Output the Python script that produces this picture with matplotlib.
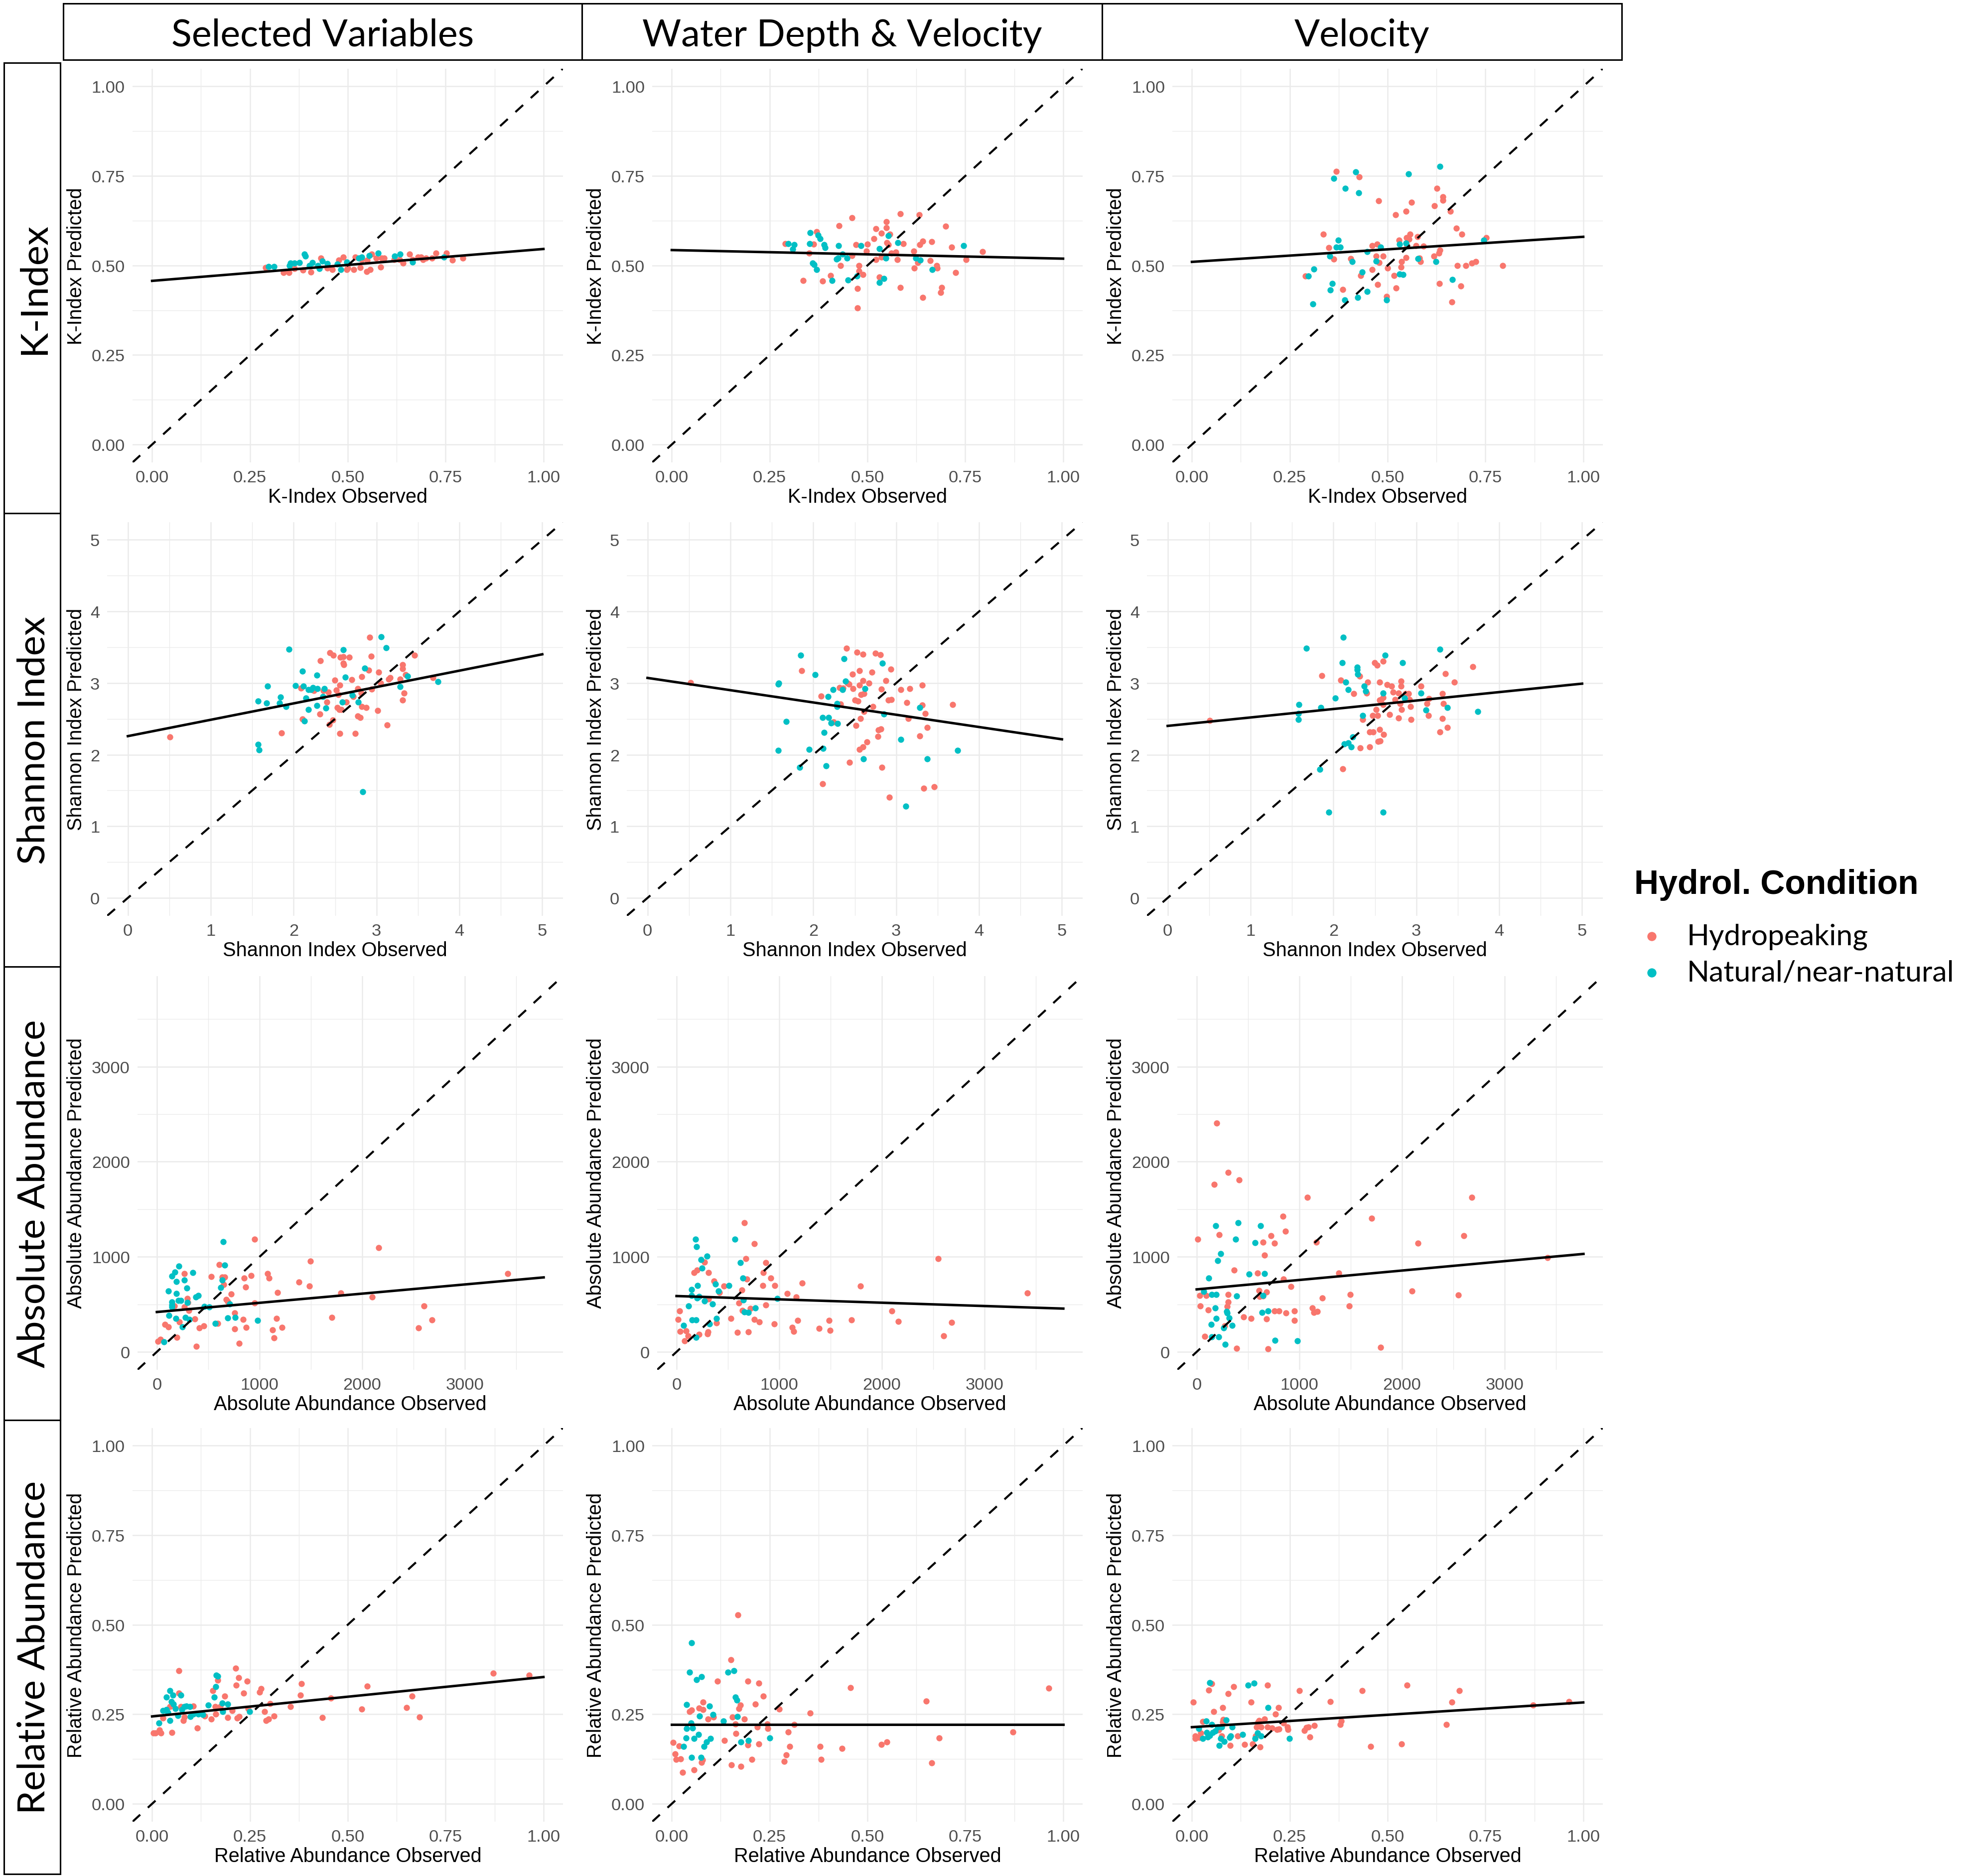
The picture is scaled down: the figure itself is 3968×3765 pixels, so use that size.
import numpy as np
import matplotlib.pyplot as plt
from matplotlib.lines import Line2D
from matplotlib.patches import Rectangle

HYD = '#F8766D'
NAT = '#00BFC4'

col_titles = ['Selected Variables', 'Water Depth & Velocity', 'Velocity']
row_titles = ['K-Index', 'Shannon Index', 'Absolute Abundance', 'Relative Abundance']
legend_title = 'Hydrol. Condition'
legend_labels = ['Hydropeaking', 'Natural/near-natural']

# ---------------- K-Index ----------------
k_sel_hx = [0.290,0.336,0.350,0.364,0.385,0.406,0.431,0.448,0.461,0.477,0.488,0.497,0.500,0.515,0.519,0.532,0.536,0.549,0.550,0.557,0.561,0.572,0.584,0.587,0.593,0.618,0.633,0.641,0.658,0.666,0.679,0.687,0.692,0.700,0.715,0.725,0.752,0.767,0.794]
k_sel_hy = [0.494,0.480,0.480,0.491,0.487,0.482,0.520,0.492,0.488,0.515,0.523,0.489,0.492,0.489,0.524,0.494,0.516,0.483,0.515,0.489,0.531,0.520,0.496,0.521,0.520,0.516,0.516,0.507,0.531,0.516,0.523,0.524,0.516,0.521,0.521,0.535,0.535,0.515,0.521]
k_sel_nx = [0.297,0.311,0.351,0.354,0.364,0.376,0.389,0.392,0.402,0.410,0.423,0.427,0.435,0.448,0.473,0.482,0.497,0.528,0.536,0.555,0.578,0.620,0.634,0.665,0.746]
k_sel_ny = [0.497,0.497,0.499,0.507,0.507,0.508,0.532,0.526,0.499,0.508,0.500,0.491,0.512,0.505,0.504,0.489,0.510,0.520,0.524,0.527,0.534,0.526,0.532,0.510,0.524]

k_wdv_hx = [0.290,0.336,0.351,0.362,0.370,0.385,0.406,0.428,0.431,0.461,0.461,0.471,0.475,0.475,0.478,0.478,0.488,0.497,0.500,0.517,0.522,0.522,0.530,0.536,0.536,0.549,0.549,0.550,0.553,0.557,0.561,0.572,0.576,0.584,0.584,0.592,0.618,0.620,0.629,0.633,0.634,0.641,0.641,0.661,0.664,0.677,0.678,0.687,0.690,0.700,0.715,0.725,0.752,0.794]
k_wdv_hy = [0.561,0.458,0.534,0.559,0.594,0.456,0.472,0.611,0.500,0.527,0.633,0.558,0.435,0.382,0.500,0.484,0.475,0.540,0.559,0.575,0.602,0.516,0.467,0.590,0.524,0.622,0.606,0.563,0.558,0.588,0.534,0.537,0.516,0.644,0.439,0.561,0.540,0.492,0.508,0.641,0.558,0.568,0.410,0.514,0.567,0.500,0.492,0.424,0.438,0.610,0.551,0.480,0.516,0.539]
k_wdv_nx = [0.297,0.309,0.313,0.354,0.352,0.360,0.364,0.370,0.374,0.379,0.389,0.392,0.410,0.421,0.425,0.426,0.436,0.448,0.450,0.473,0.483,0.530,0.530,0.542,0.547,0.554,0.578,0.623,0.635,0.665,0.746]
k_wdv_ny = [0.561,0.545,0.558,0.591,0.561,0.507,0.502,0.488,0.585,0.575,0.558,0.550,0.458,0.518,0.521,0.555,0.532,0.521,0.459,0.471,0.555,0.547,0.452,0.464,0.521,0.583,0.564,0.520,0.515,0.488,0.555]

k_vel_hx = [0.290,0.336,0.350,0.362,0.369,0.385,0.406,0.428,0.431,0.461,0.461,0.471,0.473,0.475,0.477,0.478,0.488,0.497,0.500,0.517,0.521,0.522,0.529,0.534,0.536,0.547,0.547,0.549,0.550,0.555,0.557,0.561,0.572,0.576,0.582,0.584,0.592,0.618,0.620,0.626,0.631,0.633,0.634,0.641,0.641,0.661,0.664,0.676,0.678,0.687,0.690,0.700,0.715,0.725,0.752,0.794]
k_vel_hy = [0.470,0.587,0.550,0.518,0.763,0.433,0.519,0.747,0.472,0.556,0.488,0.526,0.560,0.447,0.681,0.508,0.526,0.413,0.493,0.472,0.641,0.437,0.571,0.495,0.511,0.652,0.522,0.578,0.556,0.574,0.588,0.676,0.555,0.580,0.520,0.511,0.554,0.526,0.666,0.716,0.534,0.449,0.543,0.692,0.682,0.652,0.398,0.604,0.499,0.442,0.587,0.500,0.507,0.511,0.578,0.499]
k_vel_nx = [0.297,0.309,0.312,0.352,0.359,0.354,0.362,0.369,0.374,0.379,0.390,0.392,0.409,0.419,0.424,0.426,0.435,0.448,0.448,0.471,0.482,0.497,0.530,0.530,0.540,0.547,0.553,0.578,0.623,0.634,0.665,0.746]
k_vel_ny = [0.471,0.393,0.490,0.526,0.449,0.432,0.743,0.551,0.571,0.551,0.403,0.716,0.511,0.761,0.410,0.703,0.482,0.427,0.539,0.512,0.551,0.403,0.476,0.560,0.474,0.562,0.755,0.519,0.511,0.777,0.461,0.571]

# ---------------- Shannon Index ----------------
sh_sel_hx = [0.509,1.854,2.088,2.108,2.247,2.315,2.323,2.359,2.399,2.418,2.430,2.438,2.470,2.478,2.498,2.518,2.526,2.538,2.550,2.558,2.558,2.566,2.578,2.597,2.597,2.605,2.637,2.673,2.701,2.717,2.741,2.776,2.776,2.804,2.816,2.820,2.820,2.876,2.904,2.916,2.936,2.940,3.015,3.023,3.047,3.126,3.146,3.162,3.282,3.313,3.313,3.317,3.333,3.353,3.457,3.679]
sh_sel_hy = [2.251,2.303,2.932,2.498,2.892,2.566,3.315,2.892,2.733,2.873,2.422,3.426,2.486,3.386,3.040,2.900,2.661,2.837,2.629,2.972,2.295,3.359,2.629,3.371,3.275,3.259,2.733,3.363,3.048,2.813,2.295,2.924,2.542,2.518,2.861,3.092,2.673,2.657,3.179,3.641,3.378,2.916,2.614,3.155,2.996,2.414,3.052,3.076,3.052,3.259,3.203,2.765,2.861,3.116,3.390,3.076]
sh_sel_nx = [1.571,1.571,1.583,1.671,1.683,1.830,1.842,1.905,1.945,2.021,2.108,2.116,2.132,2.148,2.176,2.180,2.208,2.232,2.279,2.283,2.287,2.351,2.371,2.391,2.590,2.597,2.625,2.709,2.780,2.836,2.856,3.059,3.115,3.286,3.373,3.739]
sh_sel_ny = [2.749,2.143,2.068,2.721,2.956,2.721,2.801,2.673,3.470,2.964,3.167,2.956,2.470,2.789,2.633,2.912,2.912,2.940,2.685,3.112,2.924,2.813,2.920,2.653,2.733,3.466,3.080,2.833,2.733,1.482,3.207,3.645,3.494,2.948,3.100,3.020]

sh_wdv_hx = [0.517,1.862,2.092,2.112,2.247,2.327,2.319,2.359,2.399,2.414,2.430,2.438,2.470,2.478,2.502,2.518,2.530,2.538,2.558,2.558,2.558,2.570,2.578,2.597,2.597,2.597,2.609,2.609,2.645,2.673,2.705,2.717,2.749,2.780,2.788,2.812,2.816,2.820,2.828,2.876,2.908,2.916,2.936,2.940,3.055,3.126,3.146,3.162,3.286,3.313,3.313,3.333,3.353,3.377,3.457,3.683]
sh_wdv_hy = [3.004,3.171,2.817,1.594,2.454,2.705,2.936,2.928,3.486,2.996,2.988,1.896,3.127,2.924,2.765,2.406,3.434,2.749,2.076,3.171,2.972,2.502,2.841,3.406,3.036,2.112,2.853,2.602,2.175,2.996,3.155,2.669,3.414,2.255,2.343,3.394,2.359,2.916,1.825,3.036,2.765,1.406,3.195,2.773,2.908,2.729,2.502,2.924,2.259,2.972,2.693,1.534,2.574,2.378,1.554,2.701]
sh_wdv_nx = [1.575,1.583,1.579,1.671,1.834,1.850,1.949,2.021,2.112,2.120,2.132,2.152,2.180,2.184,2.212,2.239,2.287,2.287,2.295,2.355,2.371,2.391,2.605,2.625,2.852,2.836,3.055,3.115,3.286,3.373,3.739]
sh_wdv_ny = [2.988,3.000,2.060,2.466,1.821,3.390,2.076,3.116,2.518,2.088,2.307,1.841,2.809,2.518,2.446,2.908,2.713,2.669,2.438,2.908,3.339,3.028,1.944,2.920,2.566,3.275,2.215,1.283,2.657,1.940,2.060]

sh_vel_hx = [0.509,1.858,2.088,2.112,2.247,2.319,2.323,2.351,2.399,2.410,2.438,2.438,2.470,2.478,2.498,2.518,2.526,2.534,2.538,2.558,2.558,2.558,2.566,2.578,2.597,2.597,2.597,2.605,2.645,2.677,2.701,2.717,2.741,2.784,2.784,2.804,2.816,2.816,2.820,2.868,2.908,2.916,2.932,2.936,3.055,3.126,3.154,3.146,3.286,3.313,3.313,3.329,3.353,3.377,3.457,3.683]
sh_vel_hy = [2.478,3.104,3.044,1.801,2.853,3.100,2.096,2.494,2.857,3.016,2.315,2.112,2.546,2.315,3.283,2.633,3.247,2.546,2.183,3.012,2.761,2.351,2.191,2.769,3.307,2.797,2.697,2.283,2.980,2.562,2.956,2.873,2.769,2.857,2.514,2.717,3.028,2.956,2.633,2.853,2.853,2.773,2.673,2.494,2.956,2.717,2.781,2.550,2.315,2.853,2.502,2.713,3.131,2.382,3.016,3.227]
sh_vel_nx = [1.575,1.583,1.575,1.671,1.834,1.846,1.945,2.021,2.108,2.120,2.132,2.148,2.180,2.180,2.212,2.232,2.287,2.287,2.291,2.351,2.371,2.391,2.597,2.597,2.625,2.836,2.856,3.055,3.115,3.286,3.373,3.739]
sh_vel_ny = [2.574,2.701,2.494,3.486,1.797,2.661,1.199,2.793,3.283,3.637,2.151,3.012,2.163,2.912,2.112,2.251,3.219,3.187,3.127,2.550,2.956,2.888,2.857,1.199,3.390,3.283,2.793,2.857,2.622,3.474,2.657,2.606]

# ---------------- Absolute Abundance ----------------
ab_sel_hx = [13,35,77,112,173,195,221,269,266,298,304,311,368,384,413,458,528,592,608,637,650,663,676,692,724,756,756,801,842,849,865,868,916,951,954,1076,1092,1124,1140,1166,1175,1220,1383,1486,1495,1703,1790,2097,2158,2549,2600,2680,3417]
ab_sel_hy = [108,130,286,262,485,151,313,825,473,560,521,437,346,60,250,274,792,298,916,789,708,789,551,530,608,407,241,87,340,777,681,259,801,1187,515,825,774,229,145,352,623,256,732,693,952,361,617,575,1096,250,485,334,825]
ab_sel_nx = [67,112,118,144,144,147,147,176,183,189,189,215,208,234,247,266,279,291,295,317,349,381,403,461,509,567,621,637,644,660,692,708,762,980]
ab_sel_ny = [105,642,383,798,527,491,473,840,352,738,614,904,539,539,262,753,364,672,521,340,831,575,590,476,473,298,675,756,1160,910,358,503,364,328]

ab_wdv_hx = [16,32,35,77,93,112,173,199,221,272,301,307,311,311,365,391,416,461,528,592,608,634,640,660,676,685,698,720,756,759,804,839,845,868,868,916,954,957,1076,1124,1143,1166,1178,1223,1386,1486,1495,1703,1790,2097,2158,2549,2603,2680,3417]
ab_wdv_hy = [340,431,214,117,223,166,831,861,184,943,187,211,834,557,744,304,623,693,352,205,515,651,434,1358,979,768,208,455,1139,343,313,696,834,937,494,777,295,696,611,256,214,575,328,726,247,328,226,334,693,431,319,982,166,310,617]
ab_wdv_nx = [70,118,144,147,150,183,189,189,195,202,205,218,237,247,272,295,320,349,381,391,407,512,567,624,644,650,660,701,765,980]
ab_wdv_ny = [277,485,654,593,337,1184,334,154,1105,566,696,584,970,880,533,1009,295,503,711,349,642,699,1184,940,777,545,419,413,464,560]

ab_vel_hx = [13,32,35,77,93,112,173,195,221,272,298,307,307,307,365,387,413,458,528,592,608,612,644,647,660,679,679,695,724,756,756,801,839,845,865,868,916,954,954,1076,1124,1140,1166,1175,1223,1383,1486,1495,1703,1790,2097,2155,2549,2600,2680,3417]
ab_vel_hy = [1184,590,485,163,590,440,1762,2404,1232,271,479,605,524,1889,861,39,1810,367,349,828,645,581,1154,587,1015,630,346,33,1223,431,1145,431,1428,768,1268,410,687,431,328,1627,461,413,1154,425,566,828,485,605,1404,45,642,1145,596,1220,1627,991]
ab_vel_nx = [67,118,141,147,147,179,183,189,189,205,215,234,263,279,291,295,317,346,378,387,403,512,567,624,637,647,660,695,762,980]
ab_vel_ny = [636,777,289,605,160,464,1325,602,349,958,157,1033,250,81,425,410,355,280,1184,587,1358,816,1148,1325,416,593,822,428,120,114]

# ---------------- Relative Abundance ----------------
rel_sel_hx = [0.003,0.009,0.019,0.023,0.028,0.045,0.050,0.068,0.068,0.074,0.080,0.082,0.105,0.116,0.134,0.151,0.155,0.161,0.162,0.168,0.174,0.185,0.193,0.204,0.214,0.215,0.217,0.221,0.222,0.234,0.243,0.245,0.275,0.278,0.287,0.291,0.297,0.301,0.312,0.354,0.379,0.382,0.435,0.457,0.536,0.550,0.650,0.664,0.683,0.872,0.963]
rel_sel_hy = [0.198,0.198,0.206,0.198,0.239,0.271,0.199,0.309,0.372,0.271,0.233,0.242,0.273,0.211,0.245,0.237,0.316,0.271,0.250,0.345,0.271,0.300,0.241,0.260,0.378,0.331,0.239,0.352,0.244,0.309,0.342,0.266,0.312,0.321,0.258,0.233,0.236,0.280,0.245,0.271,0.304,0.336,0.241,0.295,0.265,0.328,0.269,0.300,0.242,0.365,0.359]
rel_sel_nx = [0.017,0.028,0.036,0.036,0.040,0.045,0.046,0.049,0.053,0.055,0.060,0.066,0.074,0.076,0.082,0.087,0.097,0.098,0.105,0.118,0.130,0.144,0.159,0.162,0.164,0.168,0.179,0.181,0.193,0.249]
rel_sel_ny = [0.225,0.261,0.263,0.298,0.255,0.316,0.233,0.285,0.303,0.279,0.266,0.247,0.303,0.263,0.271,0.273,0.271,0.243,0.251,0.251,0.249,0.276,0.298,0.327,0.359,0.356,0.281,0.257,0.279,0.258]

rel_wdv_hx = [0.004,0.008,0.011,0.019,0.023,0.028,0.045,0.050,0.057,0.070,0.076,0.078,0.080,0.080,0.093,0.106,0.117,0.135,0.151,0.152,0.155,0.162,0.164,0.169,0.172,0.175,0.176,0.185,0.194,0.194,0.204,0.214,0.218,0.222,0.222,0.234,0.244,0.245,0.275,0.287,0.292,0.297,0.301,0.313,0.354,0.379,0.382,0.435,0.457,0.536,0.550,0.650,0.664,0.683,0.872,0.963]
rel_wdv_hy = [0.171,0.139,0.124,0.161,0.126,0.088,0.257,0.262,0.095,0.267,0.115,0.122,0.284,0.263,0.237,0.242,0.342,0.177,0.402,0.109,0.242,0.223,0.196,0.527,0.266,0.275,0.104,0.236,0.164,0.342,0.124,0.279,0.214,0.337,0.167,0.301,0.223,0.210,0.264,0.119,0.136,0.201,0.160,0.222,0.254,0.160,0.124,0.154,0.324,0.166,0.173,0.287,0.114,0.184,0.201,0.323]
rel_wdv_nx = [0.030,0.037,0.038,0.038,0.046,0.049,0.050,0.050,0.053,0.057,0.063,0.068,0.071,0.075,0.076,0.082,0.089,0.097,0.099,0.105,0.132,0.144,0.159,0.163,0.166,0.168,0.177,0.196,0.250]
rel_wdv_ny = [0.160,0.184,0.210,0.277,0.367,0.226,0.130,0.449,0.211,0.182,0.347,0.194,0.245,0.130,0.355,0.160,0.172,0.273,0.183,0.249,0.231,0.367,0.372,0.298,0.289,0.244,0.172,0.177,0.184]

rel_vel_hx = [0.003,0.008,0.009,0.019,0.023,0.028,0.043,0.050,0.056,0.068,0.076,0.078,0.079,0.080,0.092,0.098,0.106,0.117,0.135,0.151,0.155,0.162,0.165,0.169,0.172,0.174,0.177,0.185,0.193,0.193,0.204,0.214,0.217,0.221,0.222,0.234,0.244,0.245,0.275,0.287,0.292,0.297,0.301,0.313,0.354,0.379,0.382,0.435,0.457,0.536,0.550,0.650,0.664,0.683,0.872,0.963]
rel_vel_hy = [0.284,0.190,0.182,0.185,0.198,0.230,0.318,0.336,0.257,0.206,0.190,0.268,0.229,0.235,0.308,0.163,0.327,0.190,0.166,0.284,0.167,0.189,0.215,0.229,0.232,0.159,0.215,0.237,0.331,0.214,0.212,0.250,0.207,0.269,0.209,0.226,0.214,0.207,0.316,0.204,0.213,0.215,0.186,0.218,0.285,0.222,0.231,0.316,0.160,0.167,0.331,0.222,0.284,0.316,0.276,0.285]
rel_vel_nx = [0.018,0.028,0.036,0.038,0.040,0.045,0.046,0.050,0.053,0.060,0.066,0.070,0.074,0.076,0.082,0.088,0.097,0.099,0.103,0.130,0.144,0.159,0.161,0.168,0.177,0.194,0.249]
rel_vel_ny = [0.210,0.183,0.231,0.199,0.186,0.338,0.191,0.222,0.199,0.203,0.215,0.163,0.182,0.215,0.174,0.234,0.185,0.190,0.214,0.194,0.331,0.337,0.183,0.198,0.190,0.269,0.182]

# fitted line: predicted value at x = 0 and at x = axis max
fit_k = [(0.457, 0.546), (0.543, 0.519), (0.510, 0.580)]
fit_sh = [(2.259, 3.402), (3.072, 2.215), (2.402, 2.992)]
fit_ab = [(419, 783), (587, 455), (657, 1030)]
fit_rel = [(0.244, 0.354), (0.222, 0.222), (0.214, 0.283)]

panels = [
    [(k_sel_hx, k_sel_hy, k_sel_nx, k_sel_ny), (k_wdv_hx, k_wdv_hy, k_wdv_nx, k_wdv_ny), (k_vel_hx, k_vel_hy, k_vel_nx, k_vel_ny)],
    [(sh_sel_hx, sh_sel_hy, sh_sel_nx, sh_sel_ny), (sh_wdv_hx, sh_wdv_hy, sh_wdv_nx, sh_wdv_ny), (sh_vel_hx, sh_vel_hy, sh_vel_nx, sh_vel_ny)],
    [(ab_sel_hx, ab_sel_hy, ab_sel_nx, ab_sel_ny), (ab_wdv_hx, ab_wdv_hy, ab_wdv_nx, ab_wdv_ny), (ab_vel_hx, ab_vel_hy, ab_vel_nx, ab_vel_ny)],
    [(rel_sel_hx, rel_sel_hy, rel_sel_nx, rel_sel_ny), (rel_wdv_hx, rel_wdv_hy, rel_wdv_nx, rel_wdv_ny), (rel_vel_hx, rel_vel_hy, rel_vel_nx, rel_vel_ny)],
]
fits = [fit_k, fit_sh, fit_ab, fit_rel]
xmax = [1.0, 5.0, 3766, 1.0]
major = [[0, 0.25, 0.5, 0.75, 1.0], [0, 1, 2, 3, 4, 5], [0, 1000, 2000, 3000], [0, 0.25, 0.5, 0.75, 1.0]]
minor = [[0.125, 0.375, 0.625, 0.875], [0.5, 1.5, 2.5, 3.5, 4.5], [500, 1500, 2500, 3500], [0.125, 0.375, 0.625, 0.875]]
fmt = ['{:.2f}', '{:d}', '{:d}', '{:.2f}']
xlabels = ['K-Index Observed', 'Shannon Index Observed', 'Absolute Abundance Observed', 'Relative Abundance Observed']
ylabels = ['K-Index Predicted', 'Shannon Index Predicted', 'Absolute Abundance Predicted', 'Relative Abundance Predicted']

# layout in pixels of the 3968 x 3766 output
W, H = 3968, 3766
row_top = [127, 1037, 1948, 2855]
row_left = [266, 215, 276, 266]
col_off = [0, 1043, 2087]
ax_right = 1130

fig = plt.figure(figsize=(W / 200, H / 200), dpi=200)
TICKFONT = 'Liberation Sans'
STRIPFONT = 'Lato'


def fx(px):
    return px / W


def fy(py):
    return 1 - py / H


for r in range(4):
    lo = -0.05 * xmax[r]
    hi = 1.05 * xmax[r]
    for c in range(3):
        left = row_left[r] + col_off[c]
        right = ax_right + col_off[c]
        top = row_top[r] + 11.5
        bottom = row_top[r] + 802
        ax = fig.add_axes([fx(left), fy(bottom), (right - left) / W, (bottom - top) / H])
        hx, hy, nx, ny = panels[r][c]
        ax.scatter(hx, hy, s=20, color=HYD, linewidths=0, zorder=3)
        ax.scatter(nx, ny, s=20, color=NAT, linewidths=0, zorder=3)
        ax.axline((0, 0), slope=1, color='black', lw=1.5, dashes=(5, 5), zorder=4)
        y0, y1 = fits[r][c]
        ax.plot([0, xmax[r]], [y0, y1], color='black', lw=1.8, zorder=5)

        ax.set_xlim(lo, hi)
        ax.set_ylim(lo, hi)
        ax.set_xticks(major[r])
        ax.set_yticks(major[r])
        labs = [fmt[r].format(int(v)) if fmt[r] == '{:d}' else fmt[r].format(v) for v in major[r]]
        ax.set_xticklabels(labs, family=TICKFONT)
        ax.set_yticklabels(labs, family=TICKFONT)
        ax.set_xticks(minor[r], minor=True)
        ax.set_yticks(minor[r], minor=True)
        ax.grid(which='major', color='#EBEBEB', lw=0.9)
        ax.grid(which='minor', color='#EBEBEB', lw=0.5)
        ax.set_axisbelow(True)
        ax.tick_params(which='both', length=0, pad=5.4, labelsize=12.4, labelcolor='#4D4D4D')
        for s in ax.spines.values():
            s.set_visible(False)

        fig.text(fx((left + right) / 2), fy(row_top[r] + 871), xlabels[r], ha='center', va='center',
                 fontsize=14.3, family=TICKFONT, color='black')
        fig.text(fx(153 + col_off[c]), fy((top + bottom) / 2), ylabels[r], ha='center', va='center',
                 rotation=90, fontsize=14.3, family=TICKFONT, color='black')

# strip boxes
col_x = [127, 1168, 2212, 3255]
for c in range(3):
    fig.add_artist(Rectangle((fx(col_x[c]), fy(121)), (col_x[c + 1] - col_x[c]) / W, 113 / H,
                             transform=fig.transFigure, fill=False, edgecolor='black', lw=1.1))
    fig.text(fx((col_x[c] + col_x[c + 1]) / 2), fy(71), col_titles[c], ha='center', va='center',
             fontsize=27.2, family=STRIPFONT)

row_y = [127, 1031, 1941, 2851, 3762]
for r in range(4):
    fig.add_artist(Rectangle((fx(8), fy(row_y[r + 1])), 113 / W, (row_y[r + 1] - row_y[r]) / H,
                             transform=fig.transFigure, fill=False, edgecolor='black', lw=1.1))
    fig.text(fx(68), fy((row_y[r] + row_y[r + 1]) / 2), row_titles[r], ha='center', va='center',
             rotation=90, fontsize=27.5, family=STRIPFONT)

# legend
fig.text(fx(3280), fy(1776), legend_title, ha='left', va='center', fontsize=24.5,
         family=TICKFONT, weight='bold')
for i, (lab, colr) in enumerate(zip(legend_labels, [HYD, NAT])):
    yy = 1880 + i * 73
    fig.add_artist(Line2D([fx(3315)], [fy(yy)], marker='o', markersize=5.6, color=colr,
                          linestyle='none', transform=fig.transFigure))
    fig.text(fx(3386), fy(yy), lab, ha='left', va='center', fontsize=21.2, family=STRIPFONT)

fig.savefig('out.png', dpi=200, facecolor='white')
